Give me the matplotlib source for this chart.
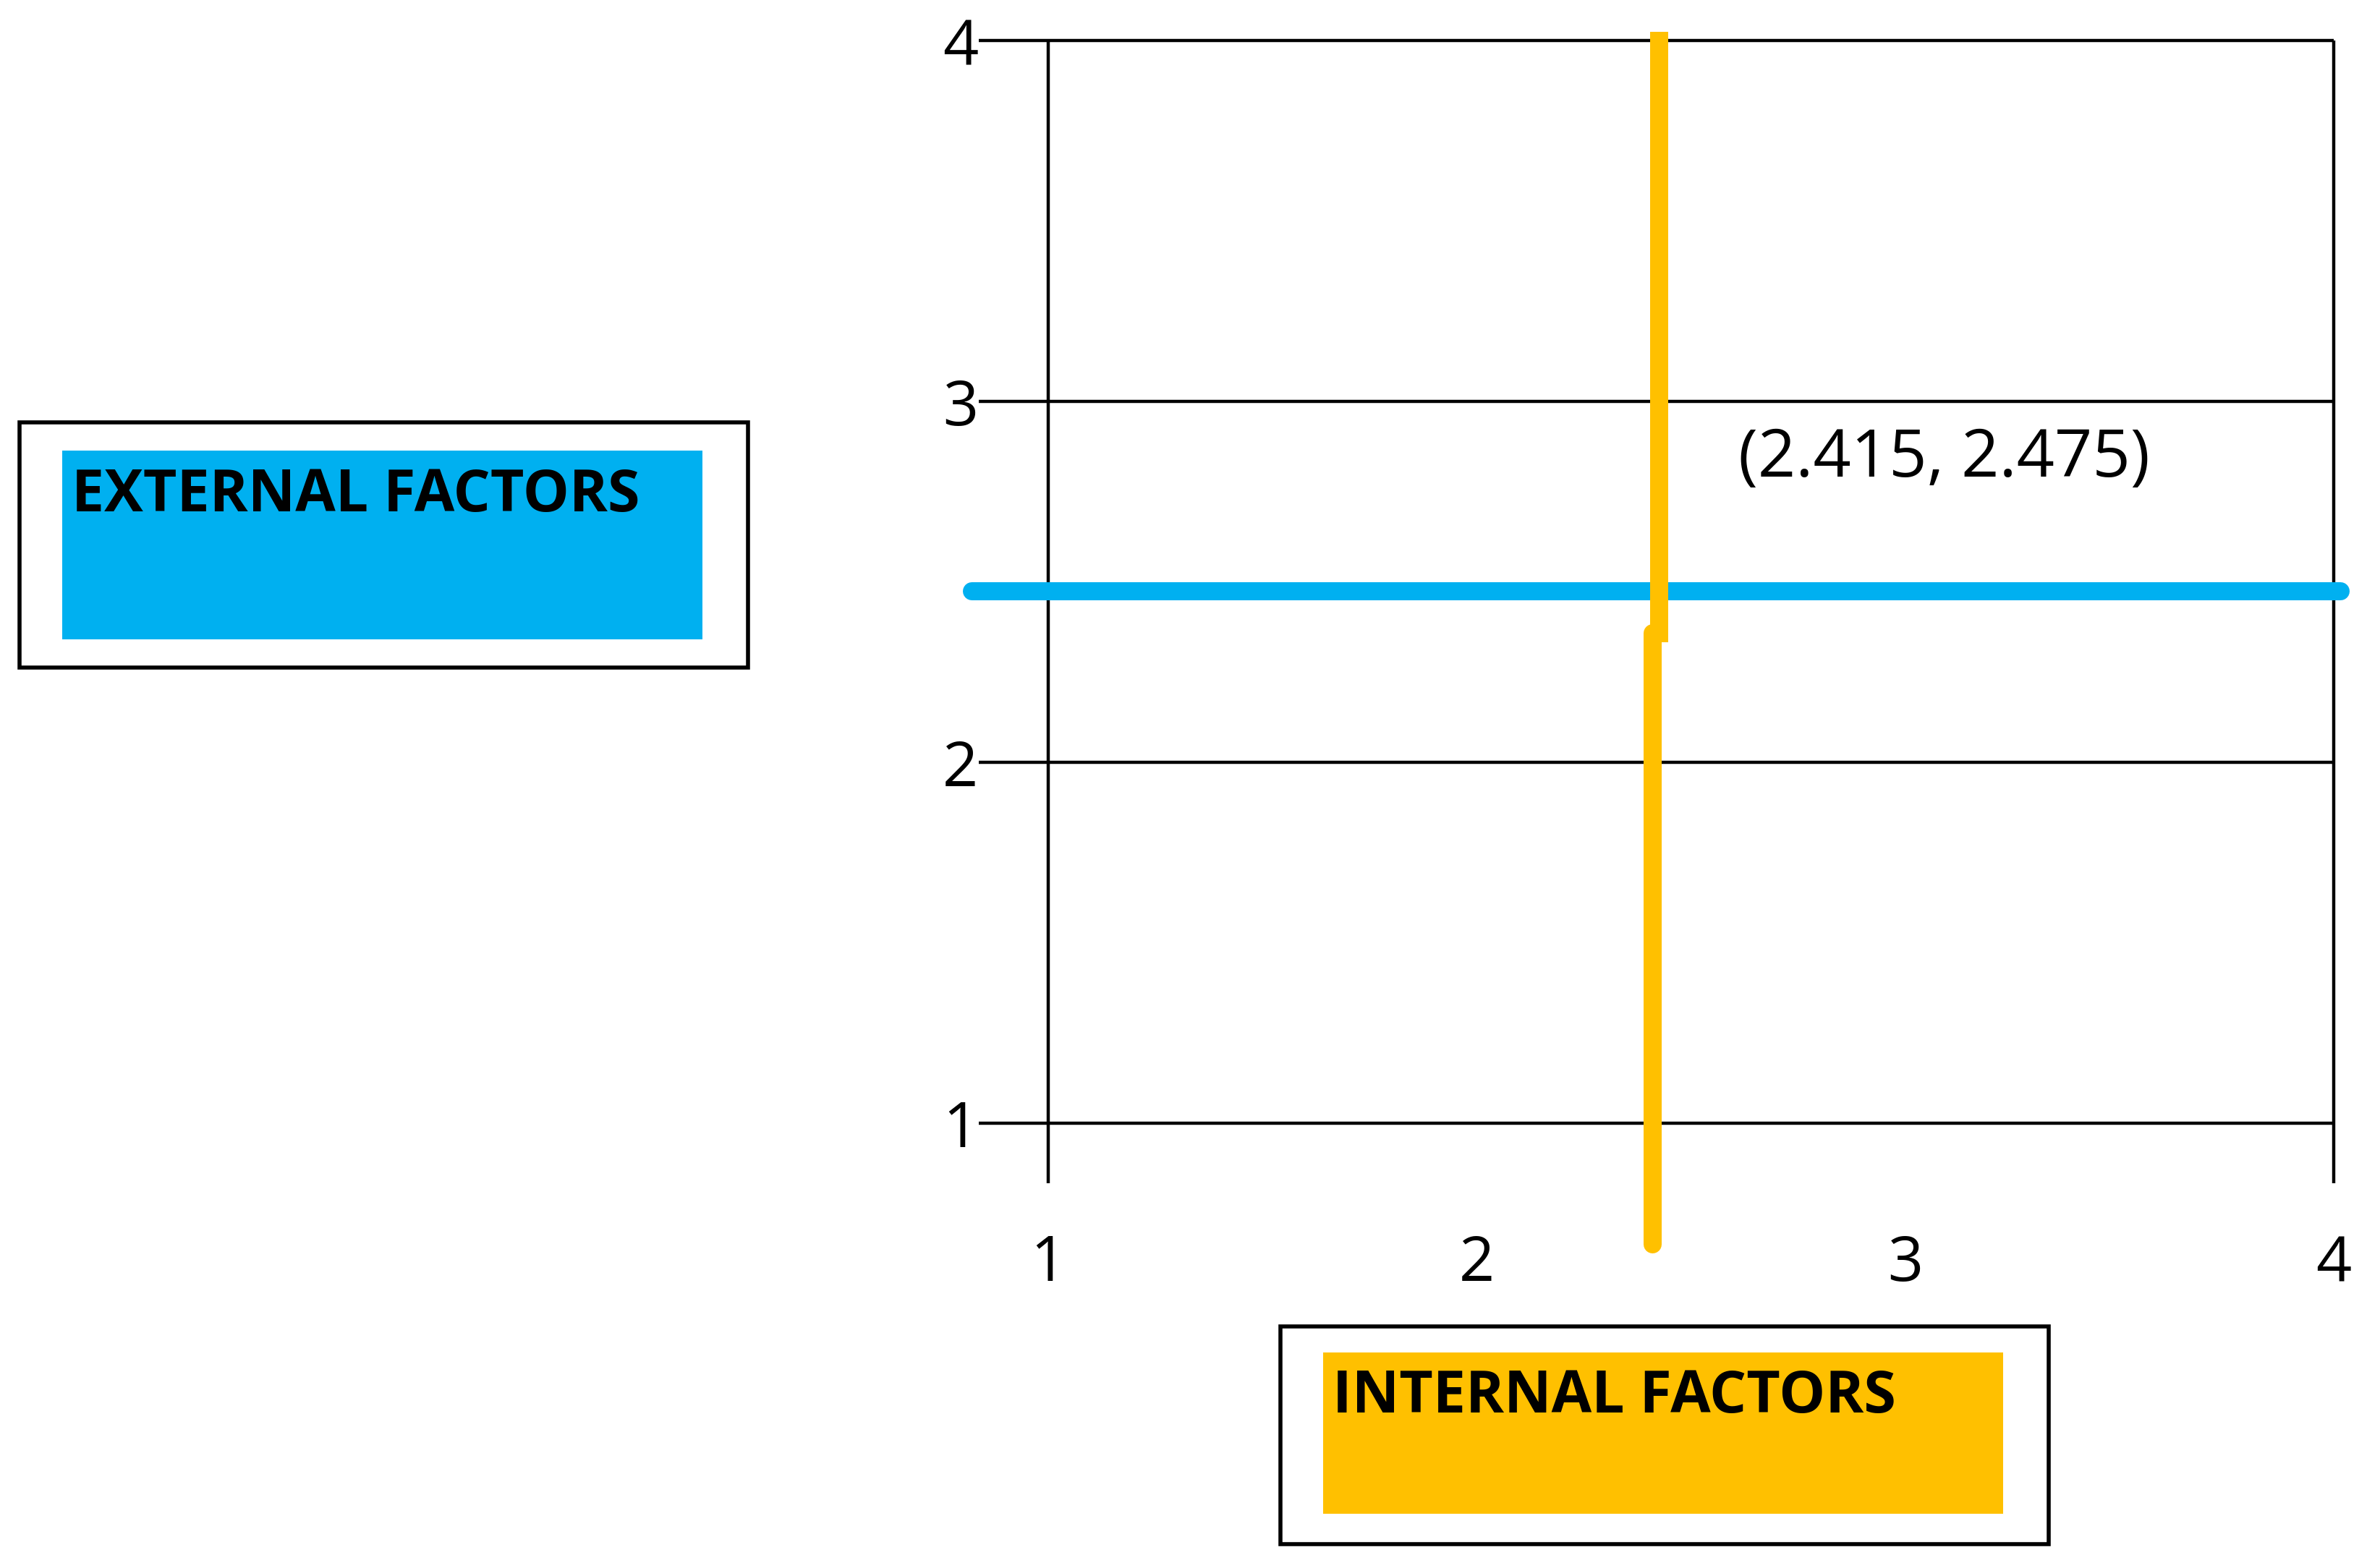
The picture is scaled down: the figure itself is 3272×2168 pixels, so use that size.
import matplotlib.pyplot as plt
from matplotlib.patches import Rectangle

# --- DATA ---
x_ticks = [1, 2, 3, 4]
y_ticks = [1, 2, 3, 4]
ext_score = 2.475   # external factors (horizontal line)
int_score = 2.415   # internal factors (vertical line)
point_label = "(2.415, 2.475)"

BLUE = '#00b0f0'
ORANGE = '#ffc000'
plt.rcParams['font.family'] = ['Open Sans', 'DejaVu Sans']

fig = plt.figure(figsize=(16.36, 10.84), dpi=200)
W, H = 1560.0, 1040.0  # reference layout units
def fx(px): return px / W
def fy(py): return 1 - py / H

ax = fig.add_axes([fx(691), fy(785), fx(1538) - fx(691), fy(27) - fy(785)])
ax.set_xlim(1, 4)
ax.set_ylim(0.833, 4)
for s in ax.spines.values():
    s.set_visible(False)
ax.tick_params(length=0, labelsize=31, pad=0)
ax.set_xticks(x_ticks)
ax.set_yticks(y_ticks)
ax.tick_params(axis='x', pad=25)
ax.tick_params(axis='y', pad=35)

# grid / frame lines
ax.hlines(y_ticks, 0.837, 4, color='black', lw=1.6, clip_on=False)
ax.vlines([x_ticks[0], x_ticks[-1]], 0.833, 4, color='black', lw=1.6, clip_on=False)

# score lines
ax.plot([0.82, 4.015], [ext_score, ext_score], color=BLUE, lw=9,
        solid_capstyle='round', clip_on=False, zorder=3)
ax.plot([int_score + 0.01, int_score + 0.01], [2.36, 4], color=ORANGE, lw=9,
        clip_on=False, zorder=4)
ax.plot([int_score - 0.005, int_score - 0.005], [0.665, 2.36], color=ORANGE, lw=9,
        solid_capstyle='round', clip_on=False, zorder=4)
ax.text(2.61, 2.84, point_label, fontsize=33, va='center', ha='left')

def label_box(outer, inner, color, text):
    x0, y0, x1, y1 = outer
    fig.patches.append(Rectangle((fx(x0), fy(y1)), fx(x1) - fx(x0), fy(y0) - fy(y1),
                                 transform=fig.transFigure, fill=False,
                                 edgecolor='black', lw=2))
    x0, y0, x1, y1 = inner
    fig.patches.append(Rectangle((fx(x0), fy(y1)), fx(x1) - fx(x0), fy(y0) - fy(y1),
                                 transform=fig.transFigure, facecolor=color,
                                 edgecolor='none'))
    fig.text(fx(x0 + 6), fy(y0 + 30), text, fontsize=29, fontweight='bold',
             va='center', ha='left')

label_box((13, 280, 493, 443), (41, 299, 463, 424), BLUE, "EXTERNAL FACTORS")
label_box((844, 880, 1350, 1024), (872, 897, 1320, 1004), ORANGE, "INTERNAL FACTORS")

fig.savefig('out.png', dpi=200)
